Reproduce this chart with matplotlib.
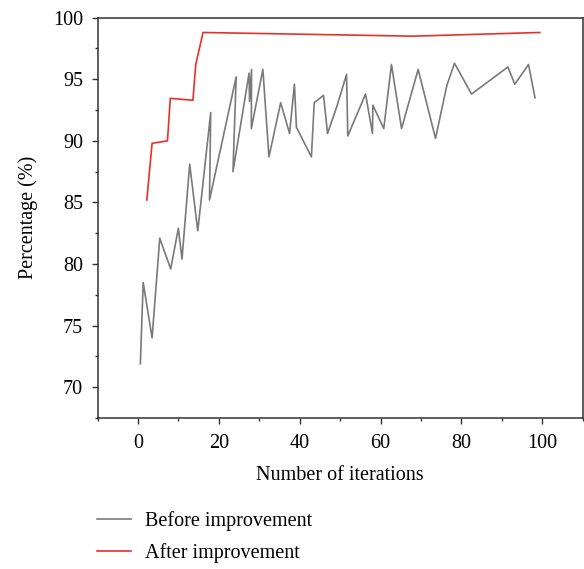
import matplotlib.pyplot as plt
from matplotlib.ticker import MultipleLocator

# data
before_x = [0.6, 1.3, 3.5, 5.4, 8.1, 10.0, 10.9, 12.8, 14.8, 18.0, 17.7, 24.3, 23.5,
            27.5, 27.6, 28.1, 28.05, 30.9, 32.4, 35.3, 37.5, 38.7, 39.2, 42.9, 43.6,
            45.9, 46.9, 49.2, 51.6, 51.9, 56.3, 58.0, 58.1, 60.8, 62.7, 65.2, 69.3,
            73.6, 76.4, 78.3, 82.5, 91.5, 93.2, 96.6, 98.2]
before_y = [71.9, 78.5, 74.0, 82.1, 79.6, 82.9, 80.4, 88.1, 82.7, 92.3, 85.2, 95.2, 87.5,
            95.5, 93.2, 95.8, 91.0, 95.8, 88.7, 93.1, 90.6, 94.6, 91.1, 88.7, 93.1,
            93.7, 90.6, 92.8, 95.4, 90.4, 93.8, 90.6, 92.9, 91.0, 96.2, 91.0, 95.8,
            90.2, 94.5, 96.3, 93.8, 96.0, 94.6, 96.2, 93.5]

after_x = [2.2, 3.5, 7.3, 8.0, 13.6, 14.3, 16.1, 68.0, 99.4]
after_y = [85.2, 89.8, 90.0, 93.45, 93.3, 96.2, 98.8, 98.5, 98.8]

plt.rcParams['font.family'] = ['Liberation Serif', 'DejaVu Serif']
plt.rcParams['font.size'] = 14.5

fig = plt.figure(figsize=(5.84, 5.69), dpi=100)
ax = fig.add_axes([97.5 / 584, 151 / 569, 485.2 / 584, 400.3 / 569])

ax.plot(before_x, before_y, color='#7a7a7a', lw=1.2, label='Before improvement')
ax.plot(after_x, after_y, color='#e8302a', lw=1.2, label='After improvement')

ax.set_xlim(-10, 110)
ax.set_ylim(67.5, 100)
ax.xaxis.set_minor_locator(MultipleLocator(10))
ax.yaxis.set_minor_locator(MultipleLocator(2.5))
ax.set_xticks([0, 20, 40, 60, 80, 100])
ax.set_yticks([70, 75, 80, 85, 90, 95, 100])

ax.tick_params(which='major', length=4.5, width=1, color='#333333')
ax.tick_params(axis='y', which='major', pad=6)
ax.tick_params(axis='x', which='major', pad=7)
ax.tick_params(which='minor', length=2.5, width=1, color='#333333')
for s in ax.spines.values():
    s.set_color('#333333')
    s.set_linewidth(1.1)

ax.set_xlabel('Number of iterations')
ax.set_ylabel('Percentage (%)')
ax.xaxis.set_label_coords(0.5, -(476 - 418) / 400.3)
ax.xaxis.label.set_va('center')
ax.yaxis.set_label_coords(-(97.5 - 28) / 485.2, 0.5)
ax.yaxis.label.set_va('center')

fig.legend(loc='upper left', bbox_to_anchor=(97 / 584, 1 - 511 / 569),
           frameon=False, borderpad=0, borderaxespad=0,
           handlelength=1.7, handletextpad=0.7, labelspacing=0.6)

fig.savefig('out.png', dpi=100)
